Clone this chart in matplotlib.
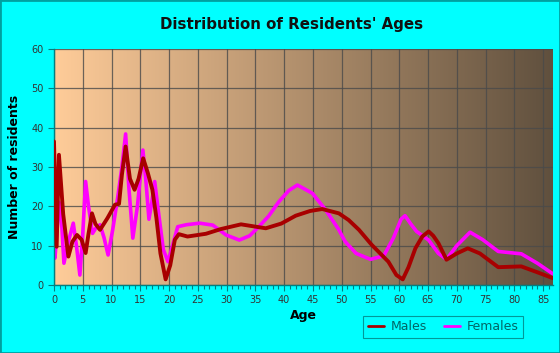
import numpy as np
import matplotlib
matplotlib.use("Agg")
import matplotlib.pyplot as plt
from matplotlib.patches import Rectangle

# ages / counts
male_age = [0.0, 0.46, 0.86, 1.6, 2.5, 3.2, 4.0, 4.8, 5.5, 6.0, 6.6, 7.2, 8.0, 9.3,
            10.6, 11.3, 11.8, 12.45, 13.2, 14.0, 14.7, 15.5, 16.3, 17.1, 17.8, 18.5,
            19.4, 20.2, 21.0, 21.7, 23.2, 26.4, 29.0, 32.5, 36.8, 39.5, 42.0, 44.5,
            46.6, 49.5, 51.2, 53.0, 55.2, 58.1, 59.5, 60.6, 61.6, 62.8, 64.0, 65.1,
            65.9, 66.8, 68.2, 70.0, 71.9, 74.0, 77.2, 81.2, 84.0, 86.7]
male_val = [36.5, 9.7, 33.1, 18.0, 7.2, 11.0, 12.7, 11.5, 8.1, 13.0, 18.2, 15.5, 14.0, 17.0,
            20.4, 20.6, 28.0, 35.2, 27.0, 24.2, 27.0, 32.2, 28.5, 24.2, 17.0, 8.0,
            1.4, 5.0, 11.5, 12.9, 12.3, 13.0, 14.2, 15.4, 14.4, 15.6, 17.6, 18.8,
            19.3, 18.2, 16.5, 14.0, 10.2, 5.9, 2.5, 1.4, 4.5, 9.3, 12.3, 13.6,
            12.5, 10.6, 6.4, 8.0, 9.3, 8.0, 4.5, 4.7, 3.2, 1.7]

female_age = [0.0, 0.17, 0.9, 1.2, 1.73, 2.5, 3.35, 3.9, 4.5, 5.0, 5.5, 6.0, 6.7, 7.3,
              8.0, 8.7, 9.4, 10.2, 11.1, 11.8, 12.45, 13.0, 13.7, 14.5, 15.45, 16.0,
              16.5, 17.0, 17.5, 18.2, 19.0, 19.8, 20.6, 21.5, 23.0, 25.3, 27.6, 29.9,
              32.2, 34.0, 35.6, 37.3, 39.1, 40.8, 42.3, 44.9, 47.2, 49.5, 50.6, 52.5,
              55.0, 57.3, 59.0, 60.3, 61.0, 62.0, 63.0, 65.1, 66.8, 68.2, 70.0, 72.3,
              74.5, 77.2, 81.2, 84.0, 86.7]
female_val = [9.0, 6.8, 21.0, 19.0, 5.5, 11.0, 15.7, 10.0, 2.5, 13.0, 26.3, 20.0, 13.1, 14.5,
              15.3, 12.0, 7.6, 14.0, 22.5, 30.0, 38.4, 25.0, 11.9, 20.0, 34.3, 26.0,
              16.7, 21.0, 26.3, 18.0, 9.0, 5.9, 10.0, 14.8, 15.3, 15.7, 15.2, 12.7,
              11.4, 12.5, 14.8, 17.5, 21.2, 24.0, 25.4, 23.3, 19.1, 14.0, 11.0, 8.0,
              6.5, 7.4, 12.0, 16.7, 17.6, 15.5, 13.6, 11.4, 8.0, 6.5, 10.0, 13.4,
              11.5, 8.5, 7.9, 5.5, 2.8]

x_ticks = list(range(0, 90, 5))
y_ticks = list(range(0, 70, 10))
XMAX = 86.7

fig = plt.figure(figsize=(5.6, 3.53), dpi=100, facecolor="#00ffff")
fig.patches.append(Rectangle((0, 0), 1, 1, transform=fig.transFigure, fill=False,
                             edgecolor="#00a0a0", linewidth=2))
ax = fig.add_axes([0.0964, 0.193, 0.891, 0.668])

# background gradient of the plot area
left_c = np.array([255, 204, 153]) / 255
right_c = np.array([96, 80, 62]) / 255
t = np.linspace(0, 1, 256)[None, :, None]
grad = left_c * (1 - t) + right_c * t
ax.imshow(grad, extent=[0, XMAX, 0, 60], aspect="auto", zorder=0)

ax.set_xlim(0, XMAX)
ax.set_ylim(0, 60)
ax.set_xticks(x_ticks)
ax.set_yticks(y_ticks)
ax.set_xticks(range(0, 87), minor=True)
ax.grid(True, color="#4a4a4a", linewidth=0.9, alpha=0.8, zorder=1)

ax.plot(male_age, male_val, color="#a80000", lw=2.8, label="Males",
        solid_joinstyle="round", solid_capstyle="round", zorder=3)
ax.plot(female_age, female_val, color="#ff00ff", lw=2.6, label="Females",
        solid_joinstyle="round", solid_capstyle="round", zorder=2)

for s in ["top", "right"]:
    ax.spines[s].set_visible(False)
for s in ["left", "bottom"]:
    ax.spines[s].set_color("#008080")
    ax.spines[s].set_linewidth(1)
ax.tick_params(axis="both", which="major", colors="#008080", labelcolor="#333333",
               labelsize=7, length=4, width=0.8)
ax.tick_params(axis="x", which="minor", colors="#008080", length=3, width=0.8)

fig.text(0.52, 0.93, "Distribution of Residents' Ages", ha="center", va="center",
         fontsize=10.8, fontweight="bold", color="#111111")
ax.set_xlabel("Age", fontsize=9, fontweight="bold", labelpad=3)
ax.set_ylabel("Number of residents", fontsize=9, fontweight="bold", labelpad=7)

leg = ax.legend(loc="center", bbox_to_anchor=(0.78, -0.178), ncol=2, frameon=True,
                fontsize=9, handlelength=1.3, handletextpad=0.5, columnspacing=1.4,
                borderpad=0.35, fancybox=False)
leg.get_frame().set_facecolor("#00ffff")
leg.get_frame().set_edgecolor("#008080")
leg.get_frame().set_linewidth(0.8)
for txt in leg.get_texts():
    txt.set_color("#006666")
for h in leg.get_lines():
    h.set_linewidth(2)

fig.savefig("out.png", dpi=100, facecolor=fig.get_facecolor())
